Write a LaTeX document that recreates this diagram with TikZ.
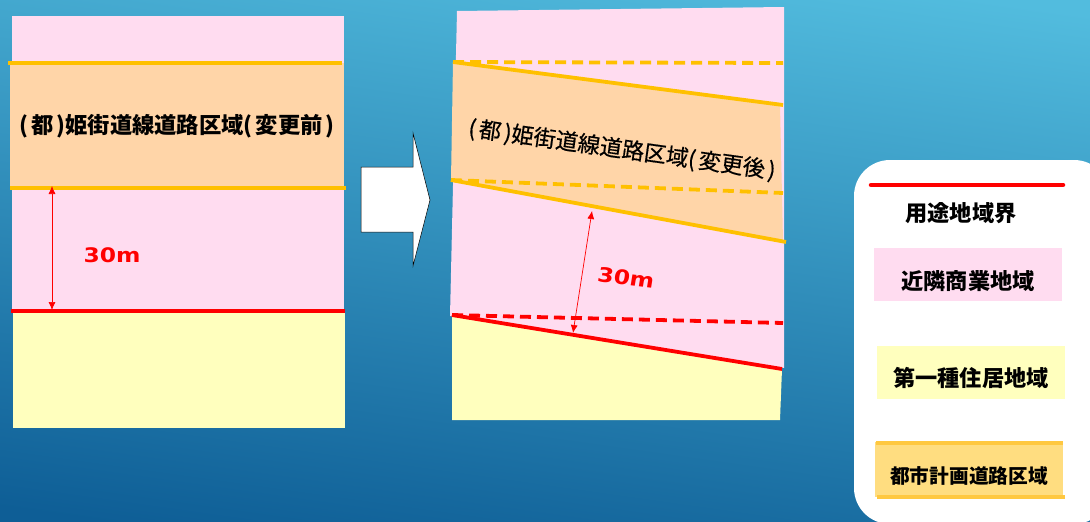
\documentclass[tikz,border=0pt]{standalone}
\usepackage{fontspec}
\usepackage{tikz}
\usetikzlibrary{arrows.meta}
\newfontfamily\jpfont{Noto Sans CJK JP}
\newfontfamily\jpmedium[FakeBold=0.5]{Noto Sans CJK JP}
\newfontfamily\numfont{DejaVu Sans}
\newcommand{\parkern}{\hspace{3pt}}
\definecolor{skytop}{RGB}{82,188,222}
\definecolor{skybottom}{RGB}{14,94,150}
\definecolor{pinkzone}{RGB}{255,220,240}
\definecolor{yellowzone}{RGB}{255,255,190}
\definecolor{roadzone}{RGB}{255,213,168}
\definecolor{roadline}{RGB}{255,192,0}
\definecolor{legendroad}{RGB}{255,221,128}
\definecolor{legendline}{RGB}{255,200,64}
\tikzset{
  roadedge/.style={roadline, line width=3.8pt},
  roaddash/.style={roadline, line width=3.8pt, dash pattern=on 11pt off 6pt},
  usageedge/.style={red, line width=3.8pt},
  usagedash/.style={red, line width=3.8pt, dash pattern=on 11pt off 6pt},
  measure/.style={red, line width=0.7pt, {Latex[length=8pt, width=7pt]}-{Latex[length=8pt, width=7pt]}},
  zonelabel/.style={font=\jpfont\bfseries\fontsize{22.3}{24}\selectfont, inner sep=0pt},
  legendlabel/.style={font=\jpfont\bfseries\fontsize{22.2}{24}\selectfont, inner sep=0pt},
  distlabel/.style={red, font=\numfont\bfseries\fontsize{20}{22}\selectfont, inner sep=0pt, xscale=1.17}
}
\begin{document}
\begin{tikzpicture}[line cap=butt, line join=miter, x=1pt, y=-1pt]
\useasboundingbox (0,0) rectangle (1090,522);
\clip (0,0) rectangle (1090,522);
\shade [top color=skytop, bottom color=skybottom, shading angle=-8] (-60,-20) rectangle (1150,542);
% left plan
\fill [pinkzone] (12,16) rectangle (344,313);
\fill [yellowzone] (13,311) rectangle (345,428);
\fill [roadzone] (10,63) rectangle (344,190);
\coordinate (ltopA) at (8,63);
\coordinate (ltopB) at (342,63);
\coordinate (lbotA) at (10,188);
\coordinate (lbotB) at (346,188);
\coordinate (lredA) at (11,311);
\coordinate (lredB) at (345,311);
\coordinate (lgapA) at (52,186);
\coordinate (lgapB) at (52,310);
\draw [roadedge] (ltopA) -- (ltopB);
\draw [roadedge] (lbotA) -- (lbotB);
\draw [usageedge] (lredA) -- (lredB);
\draw [measure] (lgapA) -- (lgapB);
\node [zonelabel] (lroad) at (177,126.5) {(\parkern 都\parkern)姫街道線道路区域(\parkern 変更前\parkern)};
\node [distlabel] (ldist) at (112,255) {30m};
% block arrow
\draw [black, fill=white, line width=0.5pt] (361,167) -- (413,167) -- (413,133) -- (430,200) -- (413,266) -- (413,232) -- (361,232) -- cycle;
% right plan
\fill [pinkzone] (457,11) -- (784,7) -- (784,368) -- (450,316) -- cycle;
\fill [yellowzone] (452,315) -- (782,369) -- (780,420) -- (452,420) -- cycle;
\fill [roadzone] (453,62) -- (780,105) -- (783,241) -- (451,180) -- cycle;
\coordinate (rtopA) at (453,62);
\coordinate (rtopB) at (783,105);
\coordinate (rtopC) at (783,63);
\coordinate (rbotA) at (451,180);
\coordinate (rbotB) at (786,242);
\coordinate (rbotC) at (783,193);
\coordinate (rredA) at (452,315);
\coordinate (rredB) at (782,369);
\coordinate (rredC) at (783,323);
\coordinate (rgapA) at (592,211);
\coordinate (rgapB) at (573,333);
\draw [roaddash] (rtopA) -- (rtopC);
\draw [roadedge] (rtopA) -- (rtopB);
\draw [roaddash] (rbotA) -- (rbotC);
\draw [roadedge] (rbotA) -- (rbotB);
\draw [usagedash] (rredA) -- (rredC);
\draw [usageedge] (rredA) -- (rredB);
\draw [measure] (rgapA) -- (rgapB);
\node [zonelabel, rotate=-8, font=\jpmedium\fontsize{22.3}{24}\selectfont] (rroad) at (622,150) {(\parkern 都\parkern)姫街道線道路区域(\parkern 変更後\parkern)};
\node [distlabel, rotate=-8] (rdist) at (626,278) {30m};
% legend
\fill [white, rounded corners=36pt] (854,160) rectangle (1110,524);
\coordinate (keyA) at (871,185);
\coordinate (keyB) at (1063,185);
\draw [usageedge, line width=4.5pt, line cap=round] (keyA) -- (keyB);
\node [legendlabel] (keyusage) at (961,213) {用途地域界};
\fill [pinkzone] (874,248) rectangle (1062,301);
\node [legendlabel] (keypink) at (968,281) {近隣商業地域};
\fill [yellowzone] (877,346) rectangle (1065,399);
\node [legendlabel] (keyyellow) at (971,378) {第一種住居地域};
\fill [legendroad] (875,442) rectangle (1063,497);
\coordinate (keyC) at (876,443);
\coordinate (keyD) at (1063,443);
\coordinate (keyE) at (877,497);
\coordinate (keyF) at (1065,497);
\draw [legendline, line width=3.5pt] (keyC) -- (keyD);
\draw [legendline, line width=3.5pt] (keyE) -- (keyF);
\node [legendlabel, font=\jpfont\bfseries\fontsize{19.7}{22}\selectfont] (keyroad) at (969,476) {都市計画道路区域};
\end{tikzpicture}
\end{document}
